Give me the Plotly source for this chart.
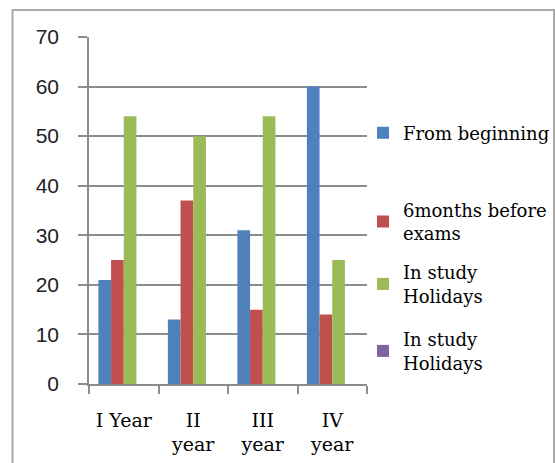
import plotly.graph_objects as go

categories = ["I Year", "II<br>year", "III<br>year", "IV<br>year"]
series_names = ["From beginning", "6months before<br>exams", "In study<br>Holidays", "In study<br>Holidays"]
from_beginning = [21, 13, 31, 60]
six_months = [25, 37, 15, 14]
study_holidays = [54, 50, 54, 25]
study_holidays_2 = [None, None, None, None]
colors = ["#4F81BD", "#C0504D", "#9BBB59", "#8064A2"]
y_ticks = [0, 10, 20, 30, 40, 50, 60, 70]

W, H = 555, 463
ML, MR, MT, MB = 89, 188, 37, 79

series_values = [from_beginning, six_months, study_holidays, study_holidays_2]
legend_ids = ["legend", "legend2", "legend3", "legend4"]
legend_tops = [114.5, 191.5, 254, 321]

fig = go.Figure()
for name, vals, col, lid in zip(series_names, series_values, colors, legend_ids):
    fig.add_trace(go.Bar(x=categories, y=vals, name=name, marker_color=col,
                         marker_line_width=0, legend=lid))

serif = "DejaVu Serif"
legend_common = dict(xref="container", yref="container", xanchor="left", yanchor="top",
                     font=dict(family=serif, size=18, color="#000"),
                     bgcolor="rgba(0,0,0,0)", borderwidth=0, itemwidth=30)
layout_legends = {}
for lid, top in zip(legend_ids, legend_tops):
    layout_legends[lid] = dict(legend_common, x=363 / W, y=1 - top / H)

gc = "#8c8c8c"
fig.update_layout(
    width=W, height=H,
    margin=dict(l=ML, r=MR, t=MT, b=MB, pad=0, autoexpand=False),
    paper_bgcolor="white", plot_bgcolor="white",
    barmode="group", bargap=0.27, bargroupgap=0,
    showlegend=True,
    xaxis=dict(type="category", showline=True, linecolor=gc, linewidth=1.5,
               ticks="outside", tickson="boundaries", ticklen=8, tickcolor=gc, tickwidth=1.5,
               showgrid=False, tickfont=dict(family=serif, size=19, color="#000"),
               tickangle=0, automargin=False, ticklabelstandoff=18),
    yaxis=dict(range=[0, 70], tickvals=y_ticks, showline=True, linecolor=gc, linewidth=1.5,
               ticks="outside", ticklen=9, tickcolor=gc, tickwidth=1.5,
               showgrid=True, gridcolor=gc, gridwidth=1.5, zeroline=False, automargin=False,
               tickfont=dict(family="Liberation Sans", size=21, color="#222"),
               ticklabelstandoff=15),
    **layout_legends,
)

pw = W - ML - MR
ph = H - MT - MB
def px_x(p):
    return (p - ML) / pw
def px_y(p):
    return (H - MB - p) / ph

fig.add_shape(type="rect", xref="paper", yref="paper",
              x0=px_x(12.5), x1=px_x(554), y0=px_y(470), y1=px_y(10),
              line=dict(color="#aaaaaa", width=2), fillcolor="rgba(0,0,0,0)", layer="below")

fig.write_html("out.html")
